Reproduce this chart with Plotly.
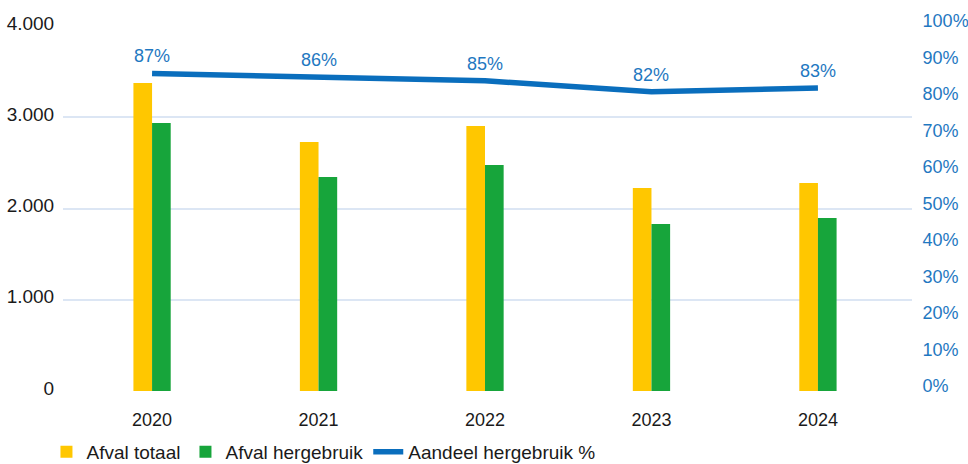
import plotly.graph_objects as go

years = ["2020", "2021", "2022", "2023", "2024"]
afval_totaal = [3375, 2730, 2905, 2225, 2280]
afval_hergebruik = [2937, 2345, 2477, 1830, 1895]
aandeel_pct = [87, 86, 85, 82, 83]
aandeel_labels = ["87%", "86%", "85%", "82%", "83%"]
left_ticks = [0, 1000, 2000, 3000, 4000]
left_ticklabels = ["0", "1.000", "2.000", "3.000", "4.000"]
right_ticks = list(range(0, 101, 10))
right_ticklabels = [f"{v}%" for v in right_ticks]

FONT = "Liberation Sans"
BLUE = "#0A6EBD"
BLUE_TXT = "#1F78C1"
YELLOW = "#FFC700"
GREEN = "#17A53B"
GRID = "#DCE6F4"

W, H = 968, 464

fig = go.Figure()
fig.add_trace(go.Bar(x=years, y=afval_totaal, name="Afval totaal",
                     marker=dict(color=YELLOW, line=dict(width=0)),
                     width=0.112, offset=-0.112))
fig.add_trace(go.Bar(x=years, y=afval_hergebruik, name="Afval hergebruik",
                     marker=dict(color=GREEN, line=dict(width=0)),
                     width=0.112, offset=0))
fig.add_trace(go.Scatter(x=years, y=aandeel_pct, name="Aandeel hergebruik %",
                         yaxis="y2", mode="lines",
                         line=dict(color=BLUE, width=5.5)))

for i, (v, lab) in enumerate(zip(aandeel_pct, aandeel_labels)):
    fig.add_annotation(x=i, y=v, xref="x", yref="y2", text=lab, showarrow=False,
                       yshift=17, font=dict(color=BLUE_TXT, size=18, family=FONT))

fig.update_layout(
    width=W, height=H,
    margin=dict(l=63, r=56, t=26, b=73, autoexpand=False),
    paper_bgcolor="white", plot_bgcolor="white",
    font=dict(family=FONT, size=18, color="#1A1A1A"),
    barmode="overlay",
    showlegend=True,
    legend=dict(orientation="h", x=0.048, xref="container", xanchor="left",
                y=0.026, yref="container", yanchor="middle",
                font=dict(size=19, color="#1A1A1A"), traceorder="normal",
                tracegroupgap=0),
    xaxis=dict(type="category", range=[-0.535, 4.565], showgrid=False,
               showline=False, zeroline=False, ticks="outside", ticklen=12,
               tickcolor="rgba(0,0,0,0)", tickfont=dict(size=18, color="#1A1A1A"),
               automargin=False),
    yaxis=dict(range=[0, 4000], tickvals=left_ticks, ticktext=left_ticklabels,
               showgrid=True, gridcolor=GRID, gridwidth=1.5, zeroline=False,
               showline=False, tickfont=dict(size=19, color="#1A1A1A"),
               ticks="outside", ticklen=4, tickcolor="rgba(0,0,0,0)",
               ticklabelshift=-3, automargin=False),
    yaxis2=dict(range=[0, 100], tickvals=right_ticks, ticktext=right_ticklabels,
                overlaying="y", side="right", showgrid=False, zeroline=False,
                showline=False, tickfont=dict(size=18, color=BLUE_TXT),
                ticks="outside", ticklen=6, tickcolor="rgba(0,0,0,0)",
                ticklabelshift=-5, automargin=False),
)

fig.write_html("out.html", config={"displayModeBar": False},
               post_script="document.body.style.margin='0';")
